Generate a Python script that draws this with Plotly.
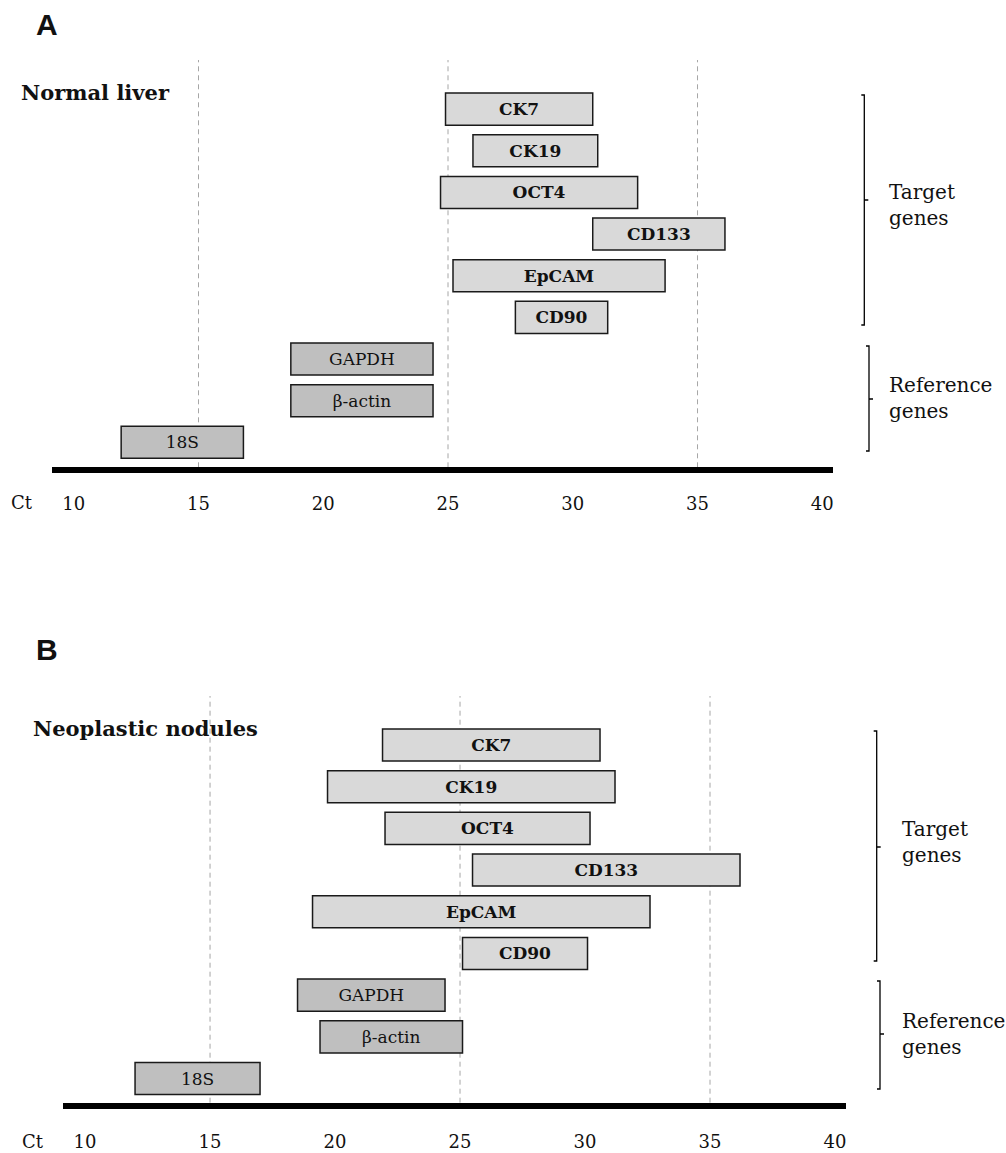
import plotly.graph_objects as go

W, H = 1006, 1153

# Genes, top to bottom; first six are targets, last three are reference genes
genes = ["CK7", "CK19", "OCT4", "CD133", "EpCAM", "CD90", "GAPDH", "β-actin", "18S"]
target_genes = genes[:6]
reference_genes = genes[6:]

# Ct ranges (lowest, highest) per gene
normal_ct_low = [24.9, 26.0, 24.7, 30.8, 25.2, 27.7, 18.7, 18.7, 11.9]
normal_ct_high = [30.8, 31.0, 32.6, 36.1, 33.7, 31.4, 24.4, 24.4, 16.8]
nodule_ct_low = [21.9, 19.7, 22.0, 25.5, 19.1, 25.1, 18.5, 19.4, 12.0]
nodule_ct_high = [30.6, 31.2, 30.2, 36.2, 32.6, 30.1, 24.4, 25.1, 17.0]

ct_ticks = [10, 15, 20, 25, 30, 35, 40]
ct_guides = [15, 25, 35]

SERIF = "DejaVu Serif"
TARGET_FILL = "#d9d9d9"
REF_FILL = "#bfbfbf"
EDGE = "#1a1a1a"


def px(x):
    return x / W


def py(y):
    return 1 - y / H


fig = go.Figure()

panels = [
    dict(xa="x", ya="y", low=normal_ct_low, high=normal_ct_high),
    dict(xa="x2", ya="y2", low=nodule_ct_low, high=nodule_ct_high),
]

for p in panels:
    n_t = len(target_genes)
    for names, lo, hi, fill, weight in [
        (target_genes, p["low"][:n_t], p["high"][:n_t], TARGET_FILL, "bold"),
        (reference_genes, p["low"][n_t:], p["high"][n_t:], REF_FILL, "normal"),
    ]:
        fig.add_trace(go.Bar(
            y=names,
            base=lo,
            x=[h - l for l, h in zip(lo, hi)],
            orientation="h",
            width=0.77,
            marker=dict(color=fill, line=dict(color=EDGE, width=1.5)),
            text=names,
            textposition="inside",
            insidetextanchor="middle",
            textangle=0,
            textfont=dict(family=SERIF, size=17, color="#111111", weight=weight),
            xaxis=p["xa"],
            yaxis=p["ya"],
            showlegend=False,
            hoverinfo="skip",
        ))
    # dashed guide lines at fixed Ct values
    for g in ct_guides:
        fig.add_shape(
            type="line", xref=p["xa"], yref=f"{p['ya']} domain",
            x0=g, x1=g, y0=0, y1=1, layer="below",
            line=dict(color="#a6a6a6", width=1, dash="5px,4px"),
        )

xaxis_common = dict(
    showline=True, linewidth=6, linecolor="black", mirror=False,
    showgrid=False, zeroline=False, ticks="",
    tickmode="array", tickvals=ct_ticks, ticktext=[str(t) for t in ct_ticks],
    tickfont=dict(family=SERIF, size=18, color="#111111"),
    fixedrange=True,
)
yaxis_common = dict(
    type="category", categoryorder="array", categoryarray=genes,
    visible=False, fixedrange=True,
)

fig.update_layout(
    width=W, height=H,
    margin=dict(l=0, r=0, t=0, b=0),
    paper_bgcolor="white", plot_bgcolor="rgba(0,0,0,0)",
    barmode="overlay",
    xaxis=dict(**xaxis_common, anchor="y", domain=[px(52.3), px(833)], range=[9.14, 40.43],
               ticklabelstandoff=15),
    yaxis=dict(**yaxis_common, anchor="x", domain=[py(467.3), py(60)], range=[8.6, -1.18]),
    xaxis2=dict(**xaxis_common, anchor="y2", domain=[px(63.3), px(846)], range=[9.13, 40.44],
                ticklabelstandoff=18),
    yaxis2=dict(**yaxis_common, anchor="x2", domain=[py(1102.7), py(696)], range=[8.58, -1.175]),
)


def bracket(x, y0, y1, ym):
    path = (f"M {px(x - 3)},{py(y0)} L {px(x)},{py(y0)} L {px(x)},{py(y1)} L {px(x - 3)},{py(y1)} "
            f"M {px(x)},{py(ym)} L {px(x + 4)},{py(ym)}")
    fig.add_shape(type="path", xref="paper", yref="paper", path=path,
                  line=dict(color="black", width=1.3))


bracket(864.3, 95, 325, 200)
bracket(869, 346, 451, 399)
bracket(876.7, 731, 961, 847)
bracket(880, 981, 1089, 1034)


def label(text, x, y, size, anchor="left", weight="normal", family=SERIF):
    fig.add_annotation(
        text=text, x=px(x), y=py(y), xref="paper", yref="paper",
        xanchor=anchor, yanchor="middle", showarrow=False, align="left",
        font=dict(family=family, size=size, color="#111111", weight=weight),
    )


label("Target<br>genes", 887, 205, 20)
label("Reference<br>genes", 887, 398, 20)
label("Target<br>genes", 900, 842, 20)
label("Reference<br>genes", 900, 1034, 20)

label("Normal liver", 19, 93, 21, weight="bold")
label("Neoplastic nodules", 31, 728, 21, weight="bold")

label("A", 46.5, 24, 30, anchor="center", weight="bold", family="Liberation Sans")
label("B", 47, 649, 30, anchor="center", weight="bold", family="Liberation Sans")

label("Ct", 21.5, 502, 18, anchor="center")
label("Ct", 32.5, 1141, 18, anchor="center")

fig.write_html("out.html", config={"displayModeBar": False})
